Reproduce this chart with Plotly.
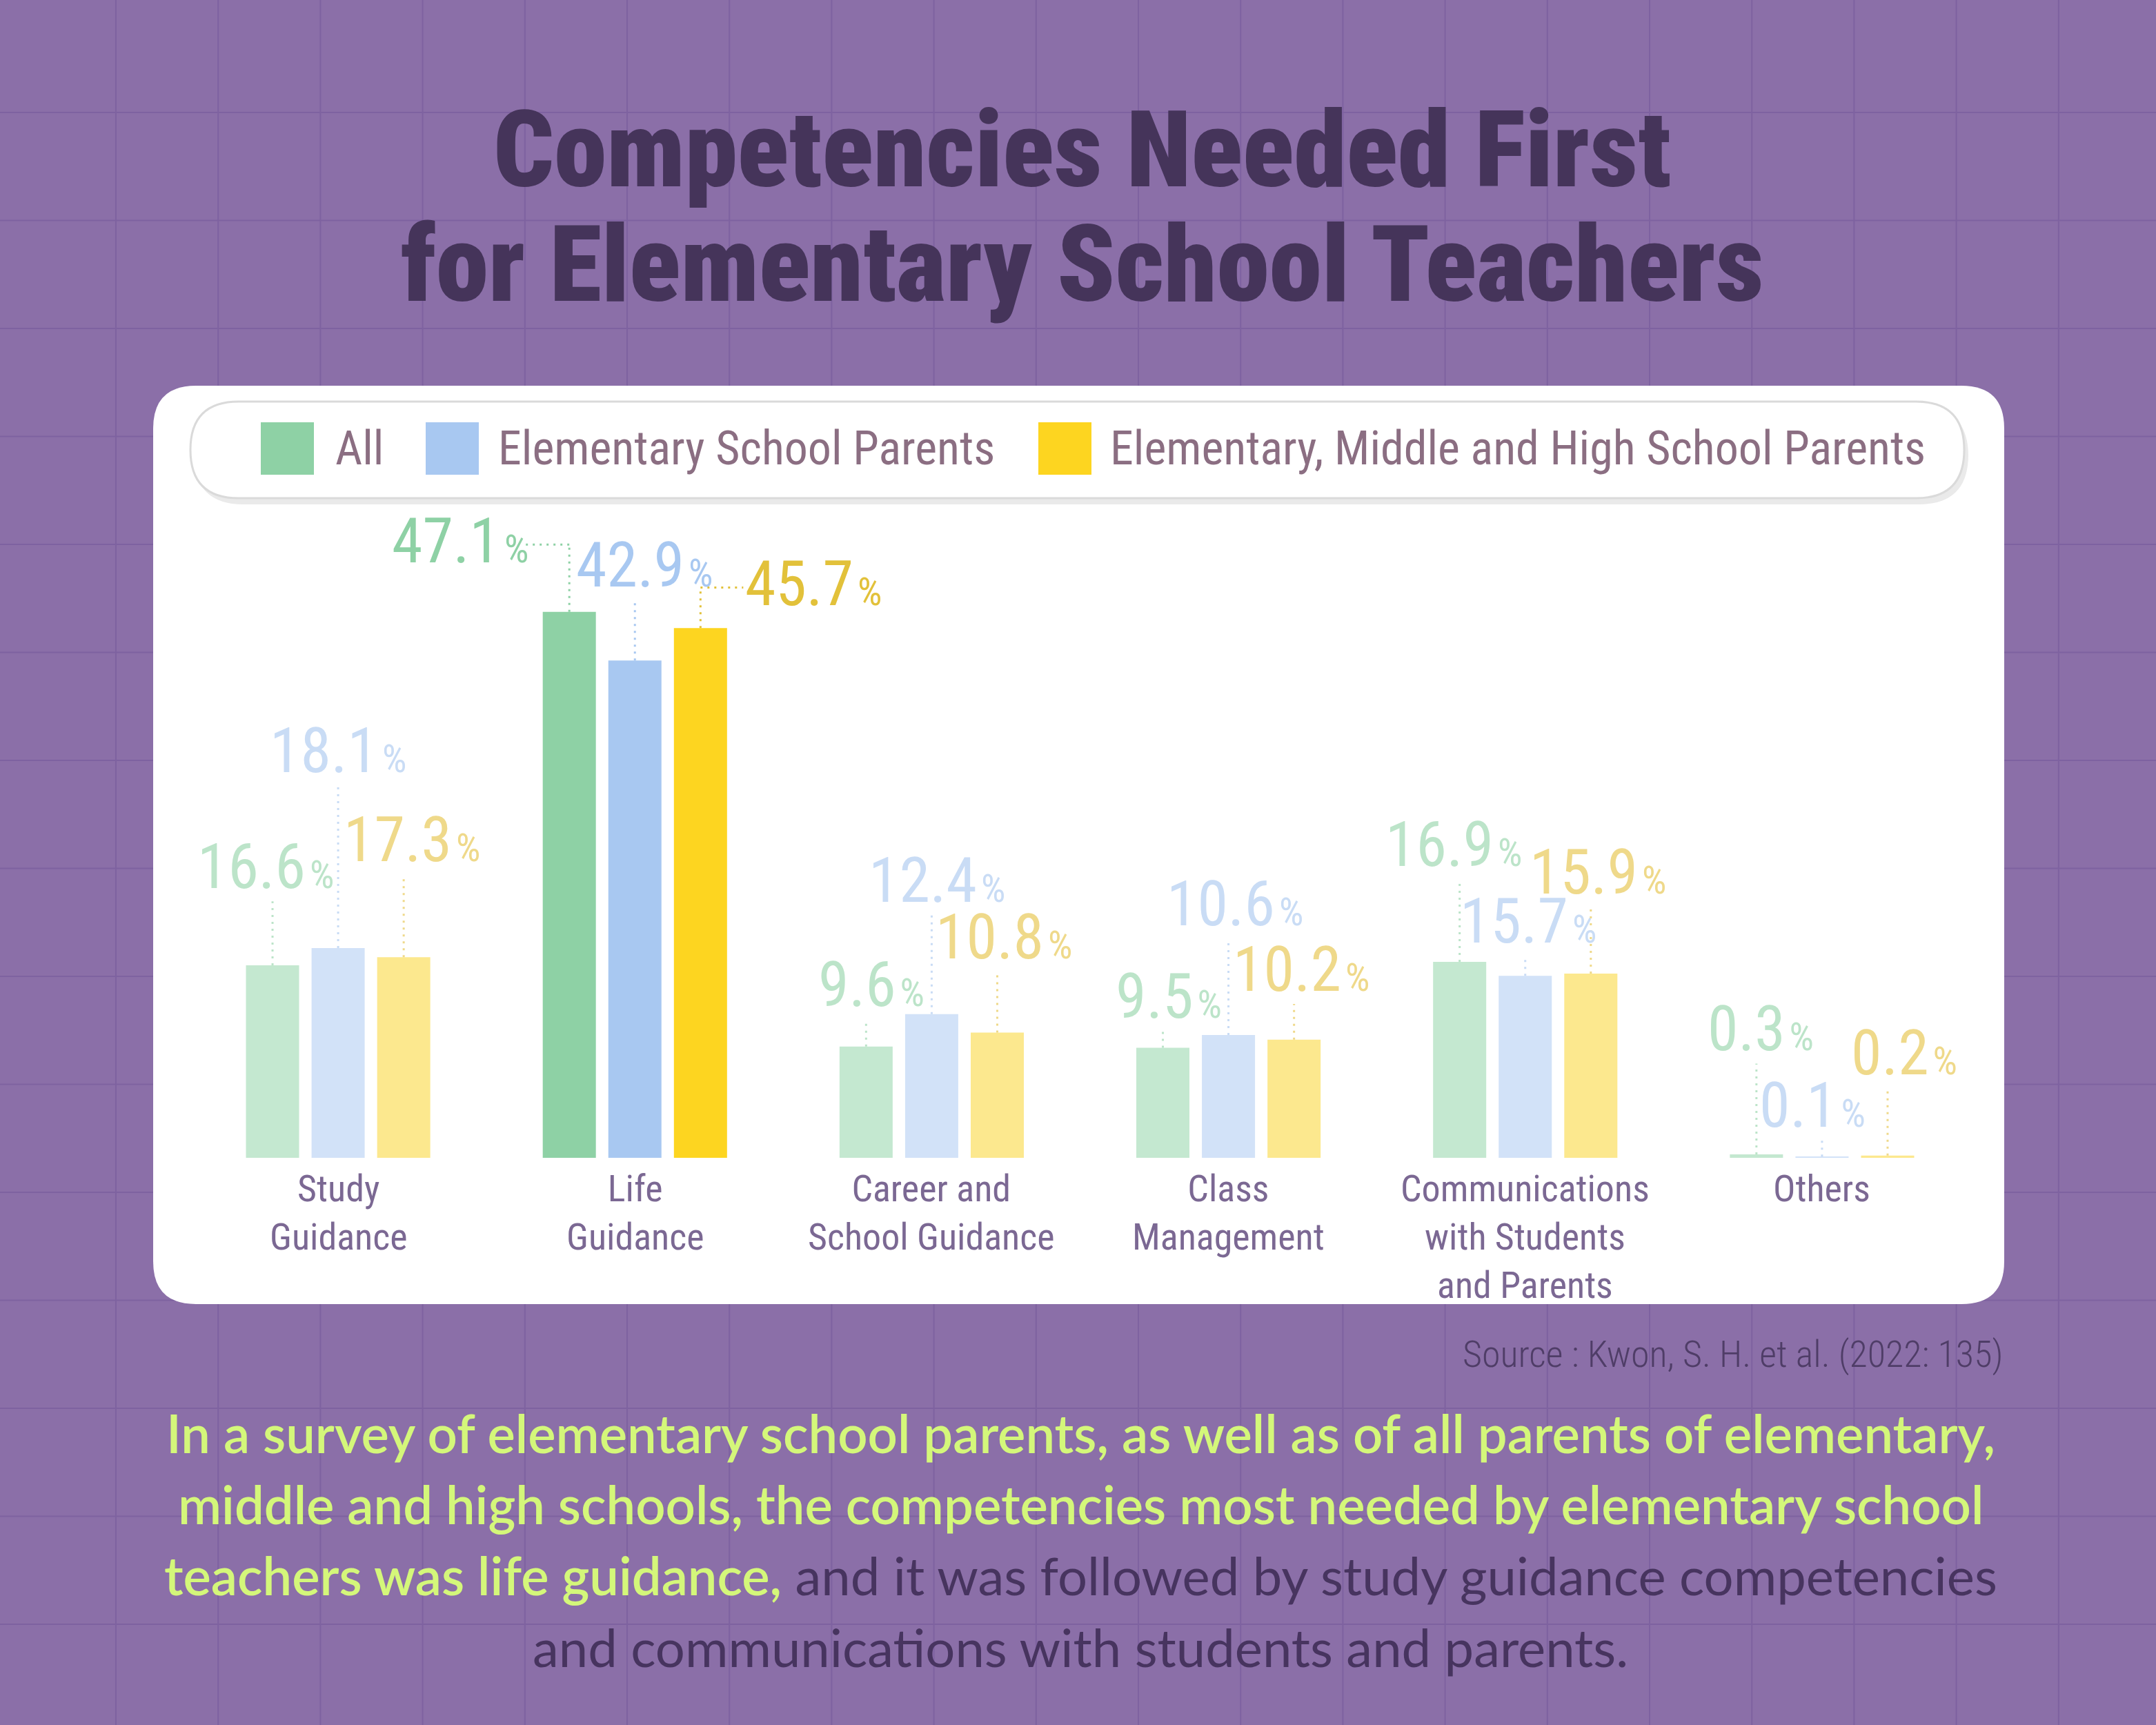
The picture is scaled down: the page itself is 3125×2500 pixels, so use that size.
import plotly.graph_objects as go

# ---------------- data ----------------
categories = ["Study<br>Guidance", "Life<br>Guidance", "Career and<br>School Guidance",
              "Class<br>Management", "Communications<br>with Students<br>and Parents", "Others"]
series_names = ["All", "Elementary School Parents", "Elementary, Middle and High School Parents"]
all_vals = [16.6, 47.1, 9.6, 9.5, 16.9, 0.3]
elem_vals = [18.1, 42.9, 12.4, 10.6, 15.7, 0.1]
emh_vals = [17.3, 45.7, 10.8, 10.2, 15.9, 0.2]
highlight_index = 1

title_lines = ["Competencies Needed First", "for Elementary School Teachers"]
source_text = "Source : Kwon, S. H. et al. (2022: 135)"
summary_green = ["In a survey of elementary school parents, as well as of all parents of elementary,",
                 "middle and high schools, the competencies most needed by elementary school",
                 "teachers was life guidance,"]
summary_dark = [" and it was followed by study guidance competencies",
                "and communications with students and parents."]

# ---------------- style ----------------
W, H = 3125, 2500
BG = "#8B6FA8"
GRID = "#7E62A0"
strong = ["#8ED1A5", "#A8C8F1", "#FDD520"]
faded = ["#C4E8D0", "#D2E2F8", "#FCE88E"]
strong_txt = ["#8ED1A5", "#A8C8F1", "#E2C13A"]
faded_txt = ["#BCE4C9", "#C9DCF5", "#EFD98A"]
# label lift above bar top (in % units) and horizontal shift (px), per category per series
label_lift = [[8.5, 17.0, 10.1], [6.1, 8.2, 3.8], [5.3, 11.5, 8.2],
              [4.4, 11.3, 6.05], [10.1, 4.7, 8.7], [10.8, 4.4, 8.8]]
label_dx = [[-10, 0, 12], [-158, 14, 164], [8, 8, 10],
            [8, 9, 10], [-9, 4, 10], [6, -14, 24]]

COND = "Roboto Condensed, DejaVu Sans Condensed, Noto Sans CJK KR"
NUM_FONT = COND
TXT_FONT = COND
TITLE_FONT = COND


def X(px):
    return px / W


def Y(py):
    return 1 - py / H


def rrect(x0, y0, x1, y1, r):
    rx, ry = r / W, r / H
    a0, b0, a1, b1 = X(x0), Y(y0), X(x1), Y(y1)
    return (f"M {a0+rx},{b0} L {a1-rx},{b0} Q {a1},{b0} {a1},{b0-ry} "
            f"L {a1},{b1+ry} Q {a1},{b1} {a1-rx},{b1} L {a0+rx},{b1} "
            f"Q {a0},{b1} {a0},{b1+ry} L {a0},{b0-ry} Q {a0},{b0} {a0+rx},{b0} Z")


shapes = []
# background grid
k = 0
while True:
    gx = 168 + 148.2 * k
    if gx > W:
        break
    shapes.append(dict(type="line", xref="paper", yref="paper", x0=X(gx), x1=X(gx), y0=0, y1=1,
                       line=dict(color=GRID, width=2), layer="below"))
    k += 1
k = 0
while True:
    gy = 163 + 156.5 * k
    if gy > H:
        break
    shapes.append(dict(type="line", xref="paper", yref="paper", x0=0, x1=1, y0=Y(gy), y1=Y(gy),
                       line=dict(color=GRID, width=2), layer="below"))
    k += 1

# card
shapes.append(dict(type="path", xref="paper", yref="paper", path=rrect(222, 559, 2905, 1890, 62),
                   fillcolor="white", line=dict(width=0), layer="below"))
# legend pill shadow + pill
shapes.append(dict(type="path", xref="paper", yref="paper", path=rrect(281, 589, 2853, 731, 72),
                   fillcolor="#EAEAEA", line=dict(width=0), layer="below"))
shapes.append(dict(type="path", xref="paper", yref="paper", path=rrect(276, 582, 2847, 722, 70),
                   fillcolor="white", line=dict(color="#DADADA", width=3), layer="below"))

annotations = []

# legend
legend_sq = [378, 617, 1505]
legend_tx = [484, 720, 1607]
for s in range(3):
    shapes.append(dict(type="rect", xref="paper", yref="paper",
                       x0=X(legend_sq[s]), x1=X(legend_sq[s] + 77), y0=Y(612), y1=Y(688),
                       fillcolor=strong[s], line=dict(width=0), layer="below"))
    annotations.append(dict(xref="paper", yref="paper", x=X(legend_tx[s]), y=Y(650), xanchor="left",
                            yanchor="middle", showarrow=False, text=series_names[s],
                            font=dict(family=TXT_FONT, size=68, color="#8B6E82")))

# bars
dom = [275 / W, 2856 / W]
bargap = 0.337
slot = (1 - bargap) / 3
px_per_cat = (dom[1] - dom[0]) * W / 6
ydom = [1 - 1678 / H, 1 - 670 / H]
yr = [0, 60]
units_per_px = (yr[1] - yr[0]) / ((ydom[1] - ydom[0]) * H)

series_vals = [all_vals, elem_vals, emh_vals]
xs = list(range(len(categories)))
fig = go.Figure()
for s in range(3):
    cols = [strong[s] if i == highlight_index else faded[s] for i in xs]
    fig.add_trace(go.Bar(x=xs, y=series_vals[s], name=series_names[s],
                         marker=dict(color=cols, line=dict(width=0)),
                         hoverinfo="skip", showlegend=False))

DOT = "3px,7px"
# value labels and leaders
for i in xs:
    for s in range(3):
        v = series_vals[s][i]
        bx = i + (s - 1) * slot
        ly = v + label_lift[i][s]
        tc = strong_txt[s] if i == highlight_index else faded_txt[s]
        dx = label_dx[i][s]
        annotations.append(dict(xref="x", yref="y", x=bx, y=ly, xshift=dx, xanchor="center", yanchor="middle",
                                showarrow=False,
                                text=f"{v}<span style='font-size:56px'>\u200a%</span>",
                                font=dict(family=NUM_FONT, size=90, color=tc)))
        if abs(dx) > 60:
            hy = ly - 0.3
            if dx < 0:
                edge = bx + (dx + 90) / px_per_cat
            else:
                edge = bx + (dx - 102) / px_per_cat
            shapes.append(dict(type="line", xref="x", yref="y", x0=bx, x1=bx, y0=v, y1=hy,
                               line=dict(color=tc, width=3, dash=DOT)))
            shapes.append(dict(type="line", xref="x", yref="y", x0=bx, x1=edge, y0=hy, y1=hy,
                               line=dict(color=tc, width=3, dash=DOT)))
        else:
            top = ly - 50 * units_per_px
            shapes.append(dict(type="line", xref="x", yref="y", x0=bx, x1=bx, y0=v, y1=top,
                               line=dict(color=tc, width=3, dash=DOT)))

# category labels (one multi-line block per category)
CAT_SIZE = 54
cat_first_line = 1722
for i, c in enumerate(categories):
    n = c.count("<br>") + 1
    yc = cat_first_line + (n - 1) * 1.3 * CAT_SIZE / 2
    annotations.append(dict(xref="x", yref="paper", x=i, y=Y(yc), xanchor="center",
                            yanchor="middle", showarrow=False, text=c, align="center",
                            font=dict(family=TXT_FONT, size=CAT_SIZE, color="#7B6893")))

# title
title_y = [218, 384]
for j, t in enumerate(title_lines):
    annotations.append(dict(xref="paper", yref="paper", x=X(1568), y=Y(title_y[j]), xanchor="center",
                            yanchor="middle", showarrow=False, text=t,
                            font=dict(family=TITLE_FONT, size=154, color="#45345A", weight=900)))

# source
annotations.append(dict(xref="paper", yref="paper", x=X(2905), y=Y(1962), xanchor="right", yanchor="middle",
                        showarrow=False, text=source_text,
                        font=dict(family=COND, size=54, color="#4F3D67", weight=300)))

# summary paragraph
GREEN = "#D4F77A"
DARK = "#47345F"
para_lines = [
    f"<span style='color:{GREEN};font-weight:600'>{summary_green[0]}</span>",
    f"<span style='color:{GREEN};font-weight:600'>{summary_green[1]}</span>",
    f"<span style='color:{GREEN};font-weight:600'>{summary_green[2]}</span>"
    f"<span style='color:{DARK};font-weight:400'>{summary_dark[0]}</span>",
    f"<span style='color:{DARK};font-weight:400'>{summary_dark[1]}</span>",
]
para_y = [2076, 2179, 2282, 2386]
for j, t in enumerate(para_lines):
    annotations.append(dict(xref="paper", yref="paper", x=X(1566), y=Y(para_y[j]), xanchor="center",
                            yanchor="middle", showarrow=False, text=t,
                            font=dict(family="Lato", size=76, color=GREEN)))

fig.update_layout(
    width=W, height=H, margin=dict(l=0, r=0, t=0, b=0),
    paper_bgcolor=BG, plot_bgcolor="rgba(0,0,0,0)",
    barmode="group", bargap=bargap, bargroupgap=0.19,
    xaxis=dict(domain=dom, range=[-0.5, 5.5], showgrid=False, zeroline=False, showticklabels=False,
               showline=False, ticks="", fixedrange=True),
    yaxis=dict(domain=ydom, range=yr, showgrid=False, zeroline=False, showticklabels=False,
               showline=False, ticks="", fixedrange=True),
    shapes=shapes, annotations=annotations, showlegend=False,
)

fig.write_html("out.html", config={"displayModeBar": False},
               post_script="document.body.style.margin='0px';")
